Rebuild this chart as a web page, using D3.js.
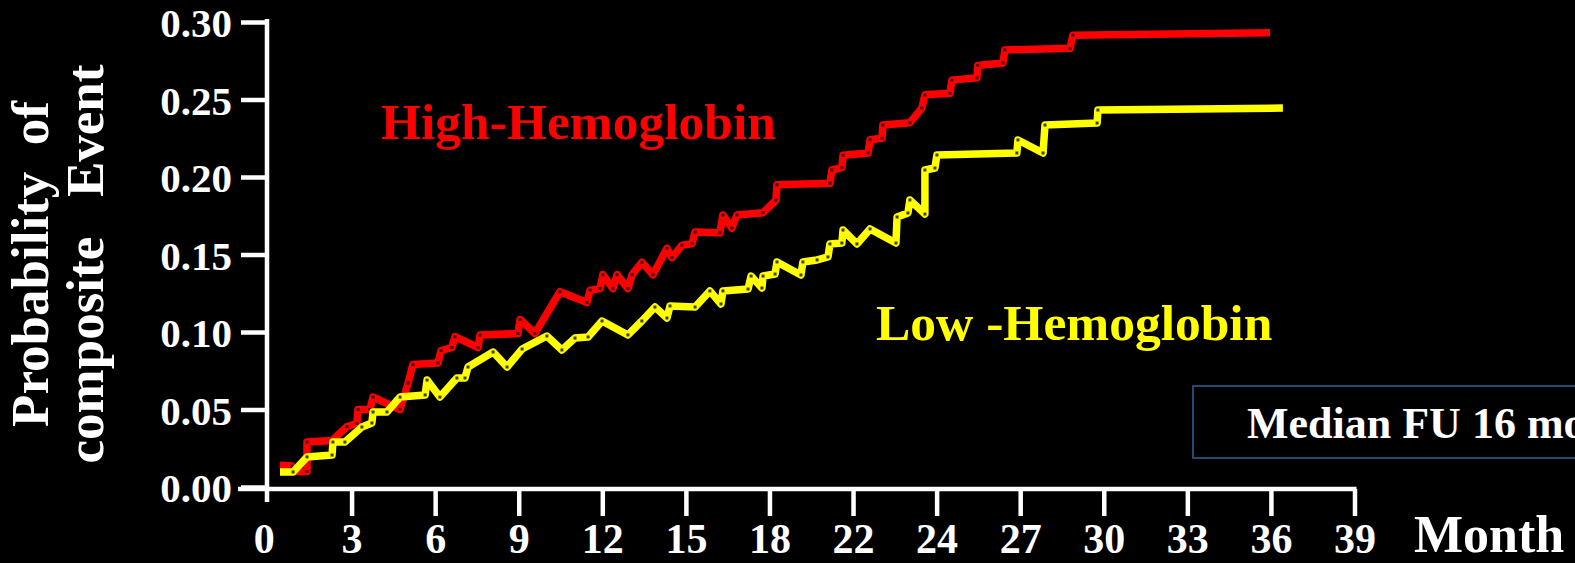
<!DOCTYPE html>
<html>
<head>
<meta charset="utf-8">
<script src="https://cdn.jsdelivr.net/npm/d3@7"></script>
<style>
  html, body { margin: 0; padding: 0; background: #000; }
  svg { display: block; }
  text { font-family: "Liberation Serif", "Times New Roman", serif; font-weight: bold; }
</style>
</head>
<body>
<svg id="chart" width="1575" height="563"></svg>
<script>
// ---- data ----
const xTickValues = [0, 3, 6, 9, 12, 15, 18, 21, 24, 27, 30, 33, 36, 39];
const xTickLabels = ["0", "3", "6", "9", "12", "15", "18", "22", "24", "27", "30", "33", "36", "39"];
const yTickValues = [0, 0.05, 0.10, 0.15, 0.20, 0.25, 0.30];

// high hemoglobin group (red)
const highMonth = [0.43, 0.86, 0.97, 1.40, 1.40, 2.30, 2.84, 3.19, 3.23, 3.66, 3.77, 4.74, 5.03, 5.20, 6.10, 6.21,
  6.60, 6.71, 7.54, 7.61, 8.97, 9.05, 9.58, 10.48, 11.45, 11.56, 11.92, 12.02, 12.38, 12.53, 12.92, 13.07,
  13.42, 13.82, 14.32, 14.50, 14.86, 15.22, 15.33, 16.22, 16.33, 16.65, 16.83, 17.77, 18.23, 18.27, 20.17,
  20.24, 20.60, 20.64, 21.54, 21.61, 22.04, 22.07, 23.04, 23.47, 23.58, 24.48, 24.55, 25.45, 25.48, 26.38,
  26.45, 28.79, 28.89, 35.97];
const highProb = [0.014, 0.0135, 0.010, 0.010, 0.029, 0.030, 0.039, 0.041, 0.050, 0.050, 0.058, 0.050, 0.067, 0.079, 0.080, 0.088,
  0.090, 0.097, 0.090, 0.098, 0.099, 0.108, 0.099, 0.126, 0.119, 0.127, 0.128, 0.137, 0.128, 0.137, 0.128, 0.137,
  0.145, 0.137, 0.154, 0.148, 0.156, 0.157, 0.1645, 0.164, 0.1755, 0.167, 0.1755, 0.177, 0.185, 0.195, 0.196,
  0.2045, 0.206, 0.214, 0.2155, 0.224, 0.225, 0.2335, 0.235, 0.2445, 0.253, 0.254, 0.2625, 0.264, 0.272, 0.2735,
  0.282, 0.283, 0.2915, 0.293];

// low hemoglobin group (yellow)
const lowMonth = [0.43, 0.90, 1.40, 2.30, 2.33, 2.76, 3.37, 3.73, 3.77, 4.27, 4.74, 5.64, 5.71, 6.17, 6.78, 7.07,
  7.18, 8.08, 8.58, 9.12, 10.01, 10.55, 11.02, 11.49, 11.99, 12.92, 13.42, 13.89, 14.32, 14.43, 15.33, 15.86,
  16.26, 16.33, 17.23, 17.34, 17.73, 17.77, 18.20, 18.27, 19.13, 19.20, 19.71, 20.10, 20.17, 20.60, 20.64,
  21.14, 21.61, 22.54, 22.58, 22.97, 23.04, 23.58, 23.58, 23.94, 24.01, 26.88, 26.92, 27.82, 27.89, 29.76,
  29.79, 36.43];
const lowProb = [0.0097, 0.0097, 0.0194, 0.0206, 0.029, 0.029, 0.0387, 0.0413, 0.0484, 0.0484, 0.058, 0.0594, 0.069, 0.058, 0.0703, 0.0703,
  0.0774, 0.0871, 0.0774, 0.089, 0.0974, 0.0884, 0.0961, 0.0968, 0.1071, 0.0981, 0.1071, 0.1161, 0.109, 0.1168, 0.1161, 0.1265,
  0.1181, 0.1265, 0.1277, 0.1361, 0.1284, 0.1361, 0.1374, 0.1452, 0.1368, 0.1452, 0.1465, 0.1484, 0.1568, 0.1574, 0.1658,
  0.1568, 0.1665, 0.1574, 0.1742, 0.1768, 0.1852, 0.1761, 0.2045, 0.2058, 0.2142, 0.2155, 0.2239, 0.2155, 0.2335, 0.2348,
  0.2432, 0.2445];

const highLabel = "High-Hemoglobin";
const lowLabel = "Low -Hemoglobin";
const noteLabel = "Median FU 16 mo";
const yTitleLines = ["Probability  of", "composite   Event"];

// ---- layout ----
const svg = d3.select("#chart");
svg.append("rect").attr("width", 1575).attr("height", 563).attr("fill", "#000");

const x = d3.scaleLinear().domain([0, 39]).range([268, 1354.5]);
const y = d3.scaleLinear().domain([0, 0.30]).range([487, 22]);

const axisColor = "#fff";
const axisWidth = 4.5;

// y axis
const yAxis = svg.append("g")
  .attr("transform", `translate(${x(0) - 1},0)`)
  .call(d3.axisLeft(y).tickValues(yTickValues).tickFormat(d3.format(".2f"))
    .tickSize(26).tickPadding(9).tickSizeOuter(0));
yAxis.select(".domain").remove();
yAxis.selectAll(".tick line").attr("stroke", axisColor).attr("stroke-width", axisWidth);
yAxis.selectAll(".tick text").attr("fill", "#fff").attr("font-size", 41).attr("dy", "0.36em");

// x axis
const xAxis = svg.append("g")
  .attr("transform", `translate(0,${y(0) + 2})`)
  .call(d3.axisBottom(x).tickValues(xTickValues).tickFormat((d, i) => xTickLabels[i])
    .tickSize(27).tickPadding(7).tickSizeOuter(0));
xAxis.select(".domain").remove();
xAxis.selectAll(".tick line").attr("stroke", axisColor).attr("stroke-width", axisWidth);
xAxis.selectAll(".tick").filter(d => d === 0).select("line").remove();
xAxis.selectAll(".tick text").attr("fill", "#fff").attr("font-size", 42)
  .attr("dx", d => d === 0 ? "-0.1em" : 0);

// axis lines
svg.append("line")
  .attr("x1", x(0) - 1).attr("x2", x(0) - 1)
  .attr("y1", y(0.30) - 3).attr("y2", y(0) + 15)
  .attr("stroke", axisColor).attr("stroke-width", axisWidth);
svg.append("line")
  .attr("x1", x(0) - 30).attr("x2", x(39) + 2)
  .attr("y1", y(0) + 2).attr("y2", y(0) + 2)
  .attr("stroke", axisColor).attr("stroke-width", axisWidth);

// axis titles (two rotated lines, extra spaces kept)
svg.append("g").selectAll("text")
  .data(yTitleLines)
  .join("text")
  .attr("xml:space", "preserve")
  .style("white-space", "pre")
  .attr("transform", (d, i) => `translate(${i === 0 ? 48 : 103},264) rotate(-90)`)
  .attr("text-anchor", "middle").attr("fill", "#fff").attr("font-size", 53)
  .text(d => d);

svg.append("text")
  .attr("x", 1414).attr("y", 552)
  .attr("fill", "#fff").attr("font-size", 52)
  .text("Month");

// curves
const line = d3.line().x(d => x(d[0])).y(d => y(d[1]));
const series = [
  { months: highMonth, probs: highProb, color: "#ff0000" },
  { months: lowMonth, probs: lowProb, color: "#ffff00" }
];
series.forEach(s => {
  const pts = s.months.map((m, i) => [m, s.probs[i]]);
  svg.append("path")
    .datum(pts)
    .attr("d", line)
    .attr("fill", "none")
    .attr("stroke", s.color)
    .attr("stroke-width", 7.5)
    .attr("stroke-linejoin", "round")
    .attr("stroke-linecap", "butt");
  // little black vertex markers seen on the original curves
  svg.append("g").selectAll("rect")
    .data(pts.slice(1, -1))
    .join("rect")
    .attr("x", d => x(d[0]) - 1.5)
    .attr("y", d => y(d[1]) - 1.5)
    .attr("width", 3).attr("height", 3)
    .attr("fill", "#000").attr("opacity", 0.75);
});

// group labels
svg.append("text")
  .attr("x", 381).attr("y", 139)
  .attr("fill", "#ff0000").attr("font-size", 51.5)
  .text(highLabel);
svg.append("text")
  .attr("x", 876).attr("y", 340)
  .attr("fill", "#ffff00").attr("font-size", 51.5)
  .attr("xml:space", "preserve")
  .style("white-space", "pre")
  .text(lowLabel);

// follow-up note box
svg.append("rect")
  .attr("x", 1193).attr("y", 386)
  .attr("width", 420).attr("height", 72)
  .attr("fill", "none").attr("stroke", "#2e5c8e").attr("stroke-width", 1.6);
svg.append("text")
  .attr("x", 1247).attr("y", 438)
  .attr("fill", "#fff").attr("font-size", 44)
  .text(noteLabel);
</script>
</body>
</html>
